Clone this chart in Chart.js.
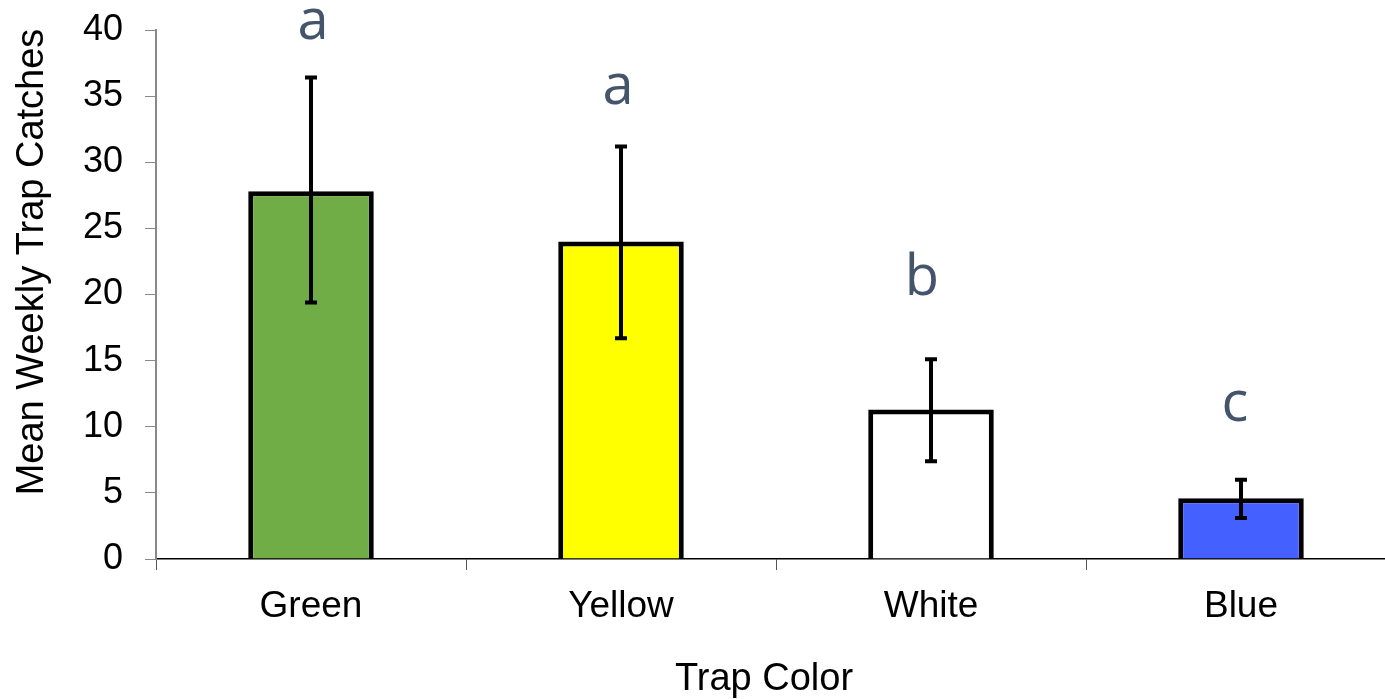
<!DOCTYPE html>
<html>
<head>
<meta charset="utf-8">
<script src="https://cdn.jsdelivr.net/npm/chart.js@4.4.1/dist/chart.umd.min.js"></script>
<style>
  html, body { margin: 0; padding: 0; background: #fff; overflow: hidden; }
  #wrap { width: 1400px; height: 699px; }
</style>
</head>
<body>
<div id="wrap"><canvas id="trapChart" width="1400" height="699"></canvas></div>
<script>
var categories = ['Green', 'Yellow', 'White', 'Blue'];
var meanCatches = [27.8, 24.0, 11.3, 4.6];
var errLow = [19.4, 16.7, 7.4, 3.1];
var errHigh = [36.4, 31.2, 15.1, 6.0];
var letters = ['a', 'a', 'b', 'c'];
var letterBase = [39.3, 34.4, 20.0, 10.4];
var barColors = ['#70ad47', '#ffff00', '#ffffff', '#4461ff'];

var letterNudge = [2, -3, -9, -6];

var errorBars = {
  id: 'errorBars',
  afterDatasetsDraw: function (chart) {
    var ctx = chart.ctx;
    var y = chart.scales.y;
    var area = chart.chartArea;
    var bars = chart.getDatasetMeta(0).data;
    ctx.save();
    ctx.strokeStyle = '#000';
    ctx.lineWidth = 4;
    bars.forEach(function (bar, i) {
      var top = y.getPixelForValue(errHigh[i]);
      var bot = y.getPixelForValue(errLow[i]);
      ctx.beginPath();
      ctx.moveTo(bar.x, top); ctx.lineTo(bar.x, bot);
      ctx.moveTo(bar.x - 6, top); ctx.lineTo(bar.x + 6, top);
      ctx.moveTo(bar.x - 6, bot); ctx.lineTo(bar.x + 6, bot);
      ctx.stroke();
    });
    ctx.fillStyle = '#44546a';
    ctx.font = '56px "Open Sans", "Noto Sans", sans-serif';
    ctx.textAlign = 'center';
    ctx.textBaseline = 'alphabetic';
    bars.forEach(function (bar, i) {
      ctx.fillText(letters[i], bar.x + letterNudge[i], y.getPixelForValue(letterBase[i]));
    });
    // axis titles
    ctx.fillStyle = '#000';
    ctx.font = '38px "Liberation Sans", Arial, sans-serif';
    ctx.textBaseline = 'middle';
    ctx.fillText('Trap Color', (area.left + area.right) / 2 - 12, 680);
    ctx.translate(33, 262);
    ctx.rotate(-Math.PI / 2);
    ctx.fillText('Mean Weekly Trap Catches', 0, 0);
    ctx.restore();
  }
};

new Chart(document.getElementById('trapChart').getContext('2d'), {
  type: 'bar',
  data: {
    labels: categories,
    datasets: [{
      data: meanCatches,
      backgroundColor: barColors,
      borderColor: '#000',
      borderWidth: 5,
      categoryPercentage: 1,
      barPercentage: 0.405
    }]
  },
  options: {
    responsive: false,
    animation: false,
    layout: { padding: { left: 0, top: 30, right: 4, bottom: 0 } },
    plugins: { legend: { display: false }, tooltip: { enabled: false } },
    scales: {
      x: {
        afterFit: function (s) { s.height = 140; },
        grid: { display: true, drawOnChartArea: false, offset: true, tickLength: 11, color: '#555' },
        border: { color: '#000', width: 1.5 },
        ticks: { color: '#000', padding: 15, font: { family: '"Liberation Sans", Arial', size: 37 } }
      },
      y: {
        min: 0, max: 40,
        afterFit: function (s) { s.width = 156; s.paddingTop = 0; s.paddingBottom = 0; },
        grid: { display: true, drawOnChartArea: false, tickLength: 11, color: '#888' },
        border: { color: '#888', width: 2 },
        ticks: { stepSize: 5, color: '#000', padding: 22, font: { family: '"Liberation Sans", Arial', size: 36 } }
      }
    }
  },
  plugins: [errorBars]
});
</script>
</body>
</html>
